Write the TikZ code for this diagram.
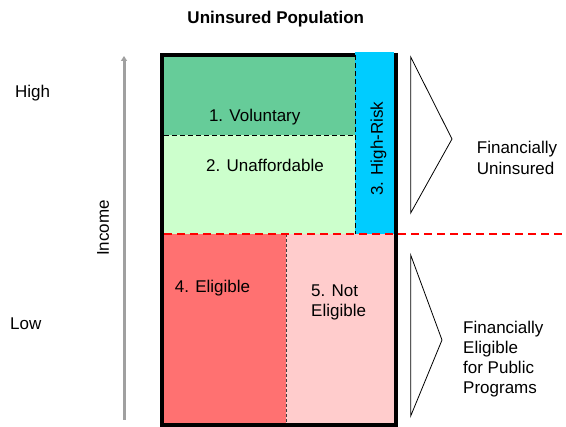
\documentclass[tikz,border=0pt]{standalone}
\usepackage{fontspec}
\setmainfont{Liberation Sans}
\usetikzlibrary{arrows.meta}
\definecolor{volgreen}{RGB}{102,204,153}
\definecolor{unafgreen}{RGB}{204,255,204}
\definecolor{riskblue}{RGB}{0,204,255}
\definecolor{eligred}{RGB}{255,113,113}
\definecolor{noteligpink}{RGB}{255,204,204}
\definecolor{axisgray}{RGB}{160,160,160}
\begin{document}
\begin{tikzpicture}[x=1pt,y=-1pt,
  txt/.style={inner sep=0pt, font=\fontsize{17}{20.5}\selectfont},
  sep/.style={dash pattern=on 5pt off 3pt, line width=0.8pt},
  bracket/.style={draw=black, line width=0.8pt, line join=miter}]
\useasboundingbox (0,0) rectangle (566,427);

% population segments
\fill[volgreen]    (162,55)  rectangle (355,135.5);
\fill[unafgreen]   (162,135.5) rectangle (355,234);
\fill[eligred]     (162,234) rectangle (286,425);
\fill[noteligpink] (286,234) rectangle (395,425);

% outer frame
\draw[line width=4pt] (162,55) rectangle (395.5,425);
\fill[riskblue] (355,52) rectangle (393.5,234);
\draw[line width=4pt] (395.5,53) -- (395.5,427);

% internal boundaries
\coordinate (v1) at (164,135.5);
\coordinate (v2) at (355,135.5);
\coordinate (r1) at (355,55);
\coordinate (r2) at (355,234);
\coordinate (e1) at (286,234);
\coordinate (e2) at (286,423);
\coordinate (cutL) at (164,234);
\coordinate (cutR) at (566,234);
\draw[sep] (v1) -- (v2);
\draw[sep] (r1) -- (r2);
\draw[dash pattern=on 3pt off 2pt, line width=0.8pt, draw=black!75] (e1) -- (e2);
\draw[red, line width=1.5pt, dash pattern=on 8pt off 5pt] (cutL) -- (cutR);

% income axis
\coordinate (axlo) at (124,420);
\coordinate (axhi) at (124,56);
\draw[axisgray, line width=3pt, -{Triangle[width=6pt,length=5pt]}] (axlo) -- (axhi);

% brackets
\draw[bracket] (410.7,57) -- (452,139) -- (410.7,213) -- cycle;
\draw[bracket] (410.7,255) -- (442,340) -- (410.7,416) -- cycle;

% labels
\node[txt, font=\fontsize{17}{20.5}\selectfont\bfseries] (title) at (275.8,19) {Uninsured Population};
\node[txt, anchor=base west] (high) at (15,98) {High};
\node[txt, anchor=base west] (low) at (10,330) {Low};
\node[txt, rotate=90] (income) at (103,228) {Income};
\node[txt, anchor=base] (vol) at (254.7,121.5) {1. Voluntary};
\node[txt, anchor=base] (unaf) at (265,171.5) {2. Unaffordable};
\node[txt, rotate=90] (risk) at (378.5,148.8) {3. High-Risk};
\node[txt, anchor=base] (elig) at (212.5,292.5) {4. Eligible};
\node[txt, anchor=base west, align=left] (notelig) at (311,316.7) {5. Not\\Eligible};
\node[txt, anchor=base west, align=left,
      font=\fontsize{17}{21.5}\selectfont] (finun) at (476.7,175) {Financially\\Uninsured};
\node[txt, anchor=base west, align=left,
      font=\fontsize{17}{20.3}\selectfont] (finel) at (463,394) {Financially\\Eligible\\for Public\\Programs};
\end{tikzpicture}
\end{document}
